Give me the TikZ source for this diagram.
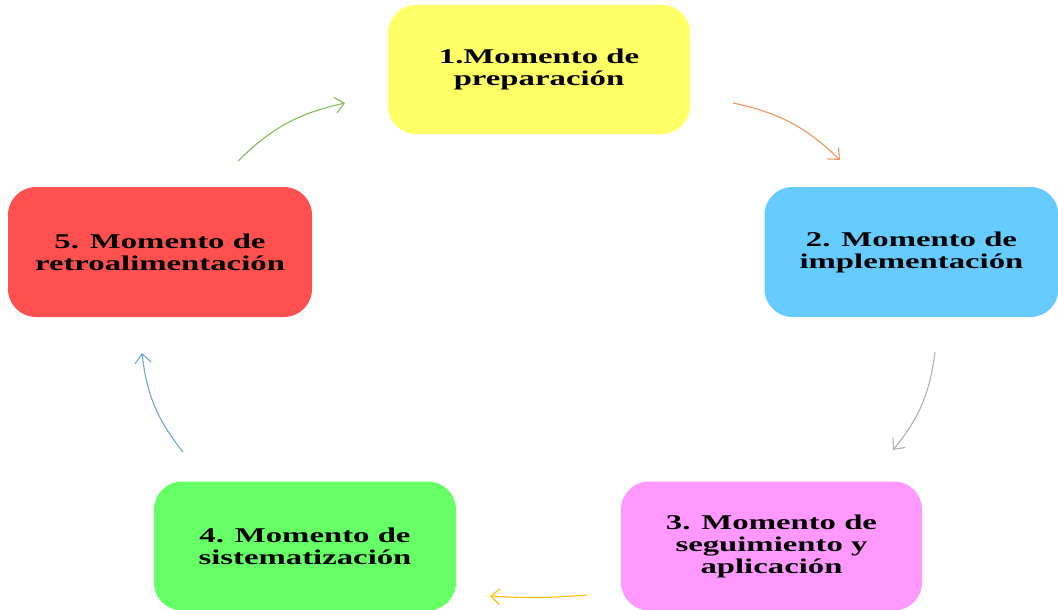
\documentclass[tikz,border=0pt]{standalone}
\usepackage{fontspec}
\newfontfamily\boxfont[FakeStretch=1.56]{Liberation Serif}
\usetikzlibrary{arrows.meta}
\begin{document}
\begin{tikzpicture}[x=1pt, y=1pt,
    momentbox/.style={rounded corners=28pt, minimum width=302pt, minimum height=129pt,
        align=center, font=\boxfont\bfseries\fontsize{21}{22}\selectfont},
    cyclearrow/.style={-{Straight Barb[length=9pt, width=16pt]}, line width=1.1pt, bend left=16}]
    % Define colors
    \definecolor{prepcolor}{RGB}{255, 255, 102}
    \definecolor{implcolor}{RGB}{102, 204, 255}
    \definecolor{seguicolor}{RGB}{255, 153, 255}
    \definecolor{sistcolor}{RGB}{102, 255, 102}
    \definecolor{retrocolor}{RGB}{255, 80, 80}
    \definecolor{orangearrow}{RGB}{240, 150, 90}
    \definecolor{grayarrow}{RGB}{175, 175, 175}
    \definecolor{goldarrow}{RGB}{255, 192, 0}
    \definecolor{bluearrow}{RGB}{110, 165, 220}
    \definecolor{greenarrow}{RGB}{130, 190, 90}

    \useasboundingbox (0,0) rectangle (1058,-610);

    % The five moments
    \node[momentbox, fill=prepcolor] (prep) at (539, -69.5) {1.Momento de\\preparación};
    \node[momentbox, fill=implcolor, minimum width=294pt, minimum height=130pt] (impl) at (911.5, -252) {2. Momento de\\implementación};
    \node[momentbox, fill=seguicolor, minimum width=301pt] (segui) at (771.5, -546) {3. Momento de\\seguimiento y\\aplicación};
    \node[momentbox, fill=sistcolor] (sist) at (305, -546) {4. Momento de\\sistematización};
    \node[momentbox, fill=retrocolor, minimum width=304pt, minimum height=130pt] (retro) at (160, -252) {5. Momento de\\retroalimentación};

    % Arrow ends
    \coordinate (prep-out) at (733, -103);
    \coordinate (impl-in) at (840, -160);
    \coordinate (impl-out) at (935, -352);
    \coordinate (segui-in) at (893, -450);
    \coordinate (segui-out) at (587, -595);
    \coordinate (sist-in) at (490, -596);
    \coordinate (sist-out) at (183, -452);
    \coordinate (retro-in) at (142, -353);
    \coordinate (retro-out) at (238, -161);
    \coordinate (prep-in) at (345, -103);

    % Arrows of the cycle
    \draw[cyclearrow, orangearrow] (prep-out) to (impl-in);
    \draw[cyclearrow, grayarrow] (impl-out) to (segui-in);
    \draw[cyclearrow, goldarrow, bend left=4] (segui-out) to (sist-in);
    \draw[cyclearrow, bluearrow] (sist-out) to (retro-in);
    \draw[cyclearrow, greenarrow] (retro-out) to (prep-in);
\end{tikzpicture}
\end{document}
